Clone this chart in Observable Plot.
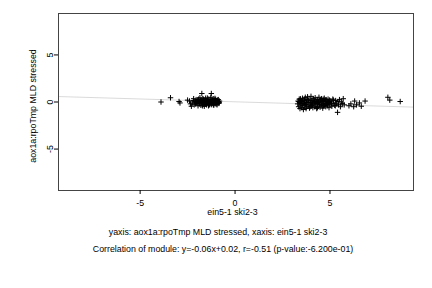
<!DOCTYPE html>
<html><head><meta charset="utf-8">
<script src="https://cdn.jsdelivr.net/npm/d3@7"></script>
<script src="https://cdn.jsdelivr.net/npm/@observablehq/plot@0.6"></script>
<style>body{margin:0;background:#fff}</style>
</head><body><div id="chart"></div>
<script>
const xs = [-2.25,-2.2,-2.15,-2.1,-2.05,-2.0,-1.98,-1.95,-1.92,-1.9,-1.88,-1.85,-1.82,-1.8,-1.78,-1.75,-1.73,-1.7,-1.68,-1.65,-1.62,-1.6,-1.58,-1.55,-1.52,-1.5,-1.48,-1.45,-1.42,-1.4,-1.38,-1.35,-1.32,-1.3,-1.28,-1.25,-1.23,-1.2,-1.18,-1.15,-1.12,-1.1,-1.08,-1.05,-1.02,-1.0,-0.98,-0.95,-0.92,-0.9,-0.87,-0.85,-0.82,
-3.9,-3.4,-2.95,-2.9,-2.3,-2.4,-2.5,-2.35,
-2.18,-2.08,-1.96,-1.86,-1.76,-1.66,-1.56,-1.46,-1.36,-1.26,-1.16,-1.06,-0.96,-0.88,-1.72,-1.5,-1.34,-1.14,-1.9,-2.02,-1.62,-1.42,-1.22,-1.04,-0.84,
3.3,3.32,3.35,3.38,3.4,3.42,3.45,3.48,3.5,3.52,3.55,3.58,3.6,3.62,3.65,3.68,3.7,3.72,3.75,3.78,3.8,3.82,3.85,3.88,3.9,3.92,3.95,3.98,4.0,4.02,4.05,4.08,4.1,4.12,4.15,4.18,4.2,4.22,4.25,4.28,4.3,4.32,4.35,4.38,4.4,4.42,4.45,4.48,4.5,4.52,4.55,4.58,4.6,4.62,4.65,4.68,4.7,4.72,4.75,4.78,4.8,4.82,4.85,4.88,4.9,4.92,4.95,4.98,5.0,5.05,5.1,5.15,5.2,5.25,5.3,5.35,5.4,5.42,5.45,5.5,5.55,5.6,5.65,5.7,5.75,
6.0,6.1,6.25,6.3,6.4,6.55,6.65,6.85,8.05,8.15,8.7,
3.36,3.46,3.56,3.66,3.76,3.86,3.96,4.06,4.16,4.26,4.36,4.46,4.56,4.66,4.76,4.86,4.96,5.08,5.18,5.28,3.44,3.74,4.04,4.34,4.64];
const ys = [-0.1,0.15,-0.3,0.05,0.25,-0.15,0.1,-0.4,0.3,0.0,-0.2,0.45,0.12,-0.35,0.2,0.9,-0.05,0.35,-0.25,0.08,-0.45,0.22,-0.12,0.4,0.02,-0.3,0.18,-0.08,0.3,-0.4,0.1,-0.18,0.25,-0.02,0.5,0.9,-0.28,0.15,-0.1,0.35,-0.35,0.05,0.2,-0.2,0.28,-0.05,0.12,-0.3,0.2,-0.1,0.05,-0.15,0.1,
0.0,0.45,0.05,-0.1,-0.45,0.1,0.2,-0.2,
0.35,-0.2,0.22,-0.1,0.05,0.28,-0.22,0.42,0.0,-0.15,0.1,0.38,-0.22,0.25,-0.4,0.12,-0.3,-0.25,0.18,-0.05,0.0,0.05,0.2,0.0,-0.05,
-0.2,0.1,-0.5,0.3,-0.05,-0.7,0.2,-0.35,0.05,-0.6,0.4,-0.15,-0.8,0.15,-0.4,0.0,0.5,-0.25,-0.55,0.25,-0.1,0.55,-0.45,0.1,-0.3,-0.65,0.3,-0.05,0.6,-0.4,0.15,-0.2,-0.6,0.35,-0.1,0.05,-0.5,0.45,-0.3,0.1,-0.7,-0.15,0.25,-0.45,0.0,0.5,-0.25,-0.55,0.2,-0.1,0.35,-0.4,0.05,-0.65,0.15,-0.2,0.4,-0.35,0.0,-0.5,0.25,-0.15,0.1,-0.4,0.3,-0.05,-0.6,0.2,-0.25,0.1,-0.45,0.3,-0.1,-0.35,0.15,-0.2,-1.1,0.05,-0.3,0.25,-0.5,0.0,-0.15,0.35,-0.3,
-0.4,-0.2,-0.5,0.1,-0.3,-0.1,-0.45,0.1,0.5,0.2,0.05,
0.05,-0.15,-0.3,0.3,-0.05,0.2,-0.5,-0.35,0.2,0.0,-0.05,0.1,-0.25,-0.4,0.2,-0.25,0.05,-0.15,0.2,-0.4,0.35,-0.7,-0.1,-0.6,0.3];
const slope = [-0.06];
const intercept = [0.02];
const xTicks = [-5, 0, 5];
const yTicks = [-5, 0, 5];
const xDomain = [-9.3, 9.4];
const yDomain = [-9.4, 9.4];
const yLabel = "aox1a:rpoTmp MLD stressed";
const xLabel = "ein5-1 ski2-3";
const caption1 = "yaxis: aox1a:rpoTmp MLD stressed, xaxis: ein5-1 ski2-3";
const caption2 = "Correlation of module: y=-0.06x+0.02, r=-0.51 (p-value:-6.200e-01)";

const pts = xs.map((x, i) => ({x, y: ys[i]}));
const reg = xDomain.map(x => ({x, y: slope[0] * x + intercept[0]}));
const fs = 8.8;

const chart = Plot.plot({
  width: 432, height: 288,
  marginLeft: 58, marginRight: 19, marginTop: 13, marginBottom: 98,
  style: {fontFamily: "Liberation Sans, Arial, sans-serif", fontSize: fs + "px", color: "#000", background: "#fff"},
  x: {domain: xDomain},
  y: {domain: yDomain},
  marks: [
    Plot.line(reg, {x: "x", y: "y", stroke: "#d0d0d0", strokeWidth: 0.8}),
    Plot.dot(pts, {x: "x", y: "y", symbol: "plus", r: 1.9, stroke: "#000", fill: "none", strokeWidth: 1}),
    Plot.frame({stroke: "#444"}),
    Plot.axisX({ticks: xTicks, tickSize: 4, tickPadding: 5, label: null, fontSize: fs, tickFormat: d => String(d)}),
    Plot.axisY({ticks: yTicks, tickSize: 4, tickPadding: 2, tickRotate: -90, label: null, fontSize: fs, tickFormat: d => String(d)}),
    Plot.text([yLabel], {text: d => d, frameAnchor: "left", textAnchor: "middle", dx: -25, dy: 4, rotate: -90, fontSize: fs}),
    Plot.text([xLabel], {text: d => d, frameAnchor: "bottom", dx: -3.5, dy: 24, fontSize: fs}),
    Plot.text([caption1], {text: d => d, frameAnchor: "bottom", dx: -18, dy: 44, fontSize: fs}),
    Plot.text([caption2], {text: d => d, frameAnchor: "bottom", dx: -13, dy: 61, fontSize: fs})
  ]
});
document.getElementById("chart").appendChild(chart);
</script>
</body></html>
